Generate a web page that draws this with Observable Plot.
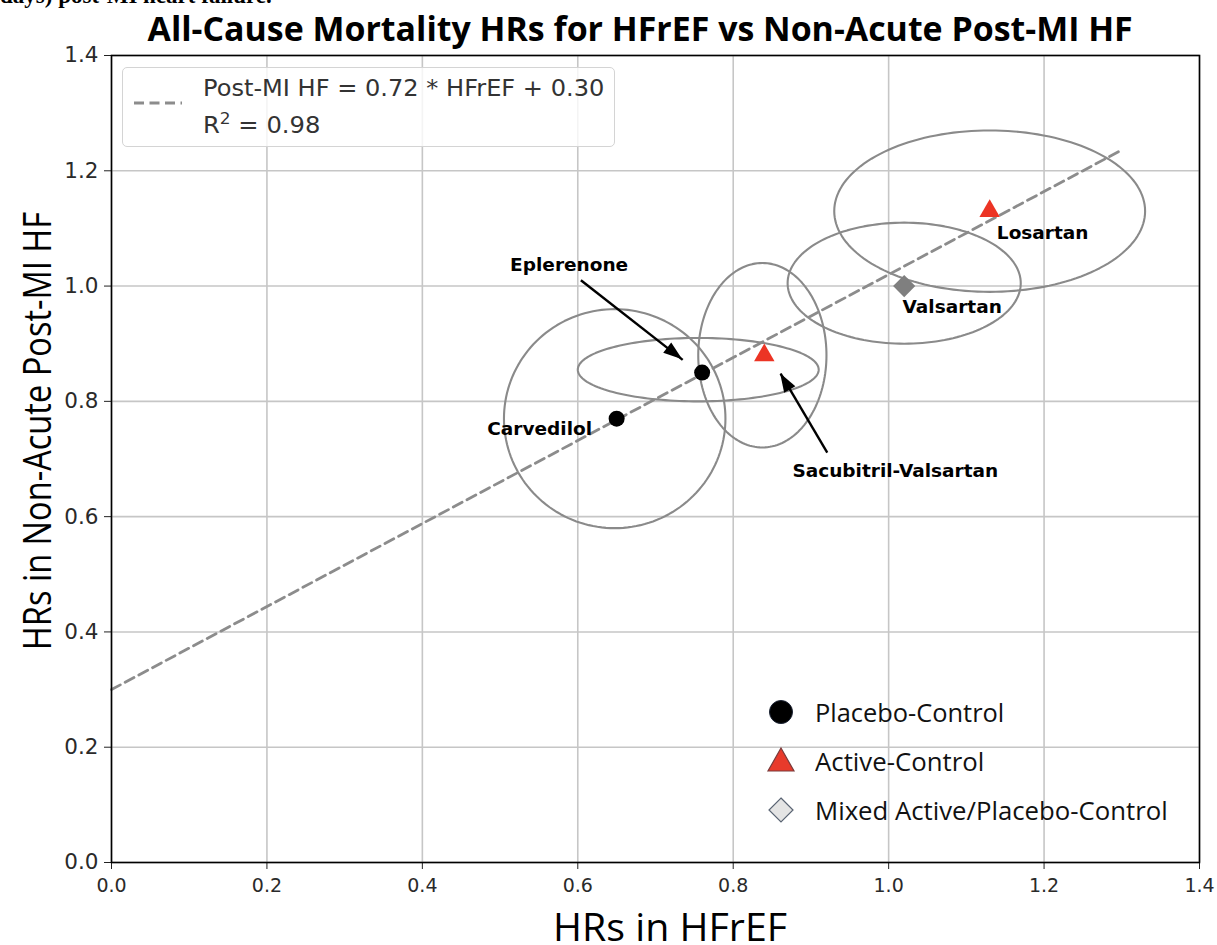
<!DOCTYPE html>
<html><head><meta charset="utf-8">
<script src="https://cdn.jsdelivr.net/npm/d3@7"></script>
<script src="https://cdn.jsdelivr.net/npm/@observablehq/plot@0.6"></script>
<style>
html,body{margin:0;padding:0;background:#fff;}
#wrap{position:relative;width:1217px;height:945px;overflow:hidden;background:#fff;}
.t{position:absolute;white-space:nowrap;line-height:1;}
</style></head><body><div id="wrap"></div>
<script>
// ---- data ----
const drugs = ["Carvedilol", "Eplerenone", "Sacubitril-Valsartan", "Valsartan", "Losartan"];
const controlType = ["Placebo-Control", "Placebo-Control", "Active-Control", "Mixed Active/Placebo-Control", "Active-Control"];
const hrHFrEF   = [0.65, 0.76, 0.84, 1.02, 1.13];
const hrHFrEFLo = [0.505, 0.60, 0.755, 0.87, 0.93];
const hrHFrEFHi = [0.79, 0.91, 0.92, 1.17, 1.33];
const hrPostMI   = [0.77, 0.85, 0.88, 1.00, 1.13];
const hrPostMILo = [0.58, 0.80, 0.72, 0.90, 0.99];
const hrPostMIHi = [0.96, 0.91, 1.04, 1.11, 1.27];
const categories = ["Placebo-Control", "Active-Control", "Mixed Active/Placebo-Control"];
const fitSlope = 0.72, fitIntercept = 0.30, fitRange = [0, 1.3];
const fitText = "Post-MI HF = 0.72 * HFrEF + 0.30";
const r2Text = "0.98";
const ticks = [0, 0.2, 0.4, 0.6, 0.8, 1.0, 1.2, 1.4];
const arrowDrugs = ["Eplerenone", "Sacubitril-Valsartan"];
const arrowTailX = [0.604, 0.921], arrowTailY = [1.010, 0.711];
const arrowTipX = [0.735, 0.861], arrowTipY = [0.872, 0.848];
const titleText = "All-Cause Mortality HRs for HFrEF vs Non-Acute Post-MI HF";
const xLabel = "HRs in HFrEF";
const yLabel = "HRs in Non-Acute Post-MI HF";

// ---- styling (not data) ----
const labelOffset = {"Carvedilol": [-77, 10], "Eplerenone": [-133, -107], "Sacubitril-Valsartan": [131, 116], "Valsartan": [48, 21], "Losartan": [53, 22]};
const catStyle = {
  "Placebo-Control": {symbol: "circle", r: 8, fill: "#000", stroke: "none"},
  "Active-Control": {symbol: "triangle", r: 7.6, fill: "#ec3424", stroke: "none"},
  "Mixed Active/Placebo-Control": {symbol: "diamond2", r: 10, fill: "#7f7f7f", stroke: "none"}
};

const points = drugs.map((d, i) => ({drug: d, type: controlType[i], x: hrHFrEF[i], y: hrPostMI[i],
  xlo: hrHFrEFLo[i], xhi: hrHFrEFHi[i], ylo: hrPostMILo[i], yhi: hrPostMIHi[i]}));

const ellipsePts = [];
for (const p of points) {
  const cx = (p.xlo + p.xhi) / 2, cy = (p.ylo + p.yhi) / 2, rx = (p.xhi - p.xlo) / 2, ry = (p.yhi - p.ylo) / 2;
  for (let k = 0; k <= 160; k++) {
    const a = 2 * Math.PI * k / 160;
    ellipsePts.push({drug: p.drug, x: cx + rx * Math.cos(a), y: cy + ry * Math.sin(a)});
  }
}
const fitPts = fitRange.map(x => ({x, y: fitSlope * x + fitIntercept}));
const arrows = arrowDrugs.map((d, i) => ({drug: d, x1: arrowTailX[i], y1: arrowTailY[i], x2: arrowTipX[i], y2: arrowTipY[i]}));

function arrowHeads(index, scales) {
  const g = d3.create("svg:g");
  for (const a of arrows) {
    const x1 = scales.x(a.x1), y1 = scales.y(a.y1), x2 = scales.x(a.x2), y2 = scales.y(a.y2);
    const L = Math.hypot(x2 - x1, y2 - y1), ux = (x2 - x1) / L, uy = (y2 - y1) / L;
    const len = 19, hw = 6.5;
    const bx = x2 - ux * len, by = y2 - uy * len;
    g.append("path").attr("d", `M${x2},${y2}L${bx - uy * hw},${by + ux * hw}L${bx + uy * hw},${by - ux * hw}Z`).attr("fill", "#000");
  }
  return g.node();
}

const marks = [
  Plot.gridX({ticks, stroke: "#c6c6c6", strokeOpacity: 1, strokeWidth: 1.6}),
  Plot.gridY({ticks, stroke: "#c6c6c6", strokeOpacity: 1, strokeWidth: 1.6}),
  Plot.line(ellipsePts, {x: "x", y: "y", z: "drug", stroke: "#8a8a8a", strokeWidth: 2.1}),
  Plot.line(fitPts, {x: "x", y: "y", stroke: "#8c8c8c", strokeWidth: 2.8, strokeDasharray: "10,5.5"})
];
for (const c of categories) {
  const s = catStyle[c];
  marks.push(Plot.dot(points, {filter: d => d.type === c, x: "x", y: "y", symbol: s.symbol, r: s.r, fill: s.fill, stroke: s.stroke}));
}
marks.push(Plot.link(arrows, {x1: "x1", y1: "y1", x2: "x2", y2: "y2", stroke: "#000", strokeWidth: 2.4}));
marks.push(arrowHeads);
for (const p of points) {
  const [dx, dy] = labelOffset[p.drug];
  marks.push(Plot.text([p], {x: "x", y: "y", text: "drug", dx, dy, fontWeight: "bold", fontSize: 18.5, fill: "#000", fontFamily: "DejaVu Sans"}));
}
marks.push(Plot.axisX({ticks, tickFormat: d3.format(".1f"), tickSize: 7, tickPadding: 9, label: null, fontSize: 19, fill: "#2a2a2a"}));
marks.push(Plot.axisY({ticks, tickFormat: d3.format(".1f"), tickSize: 7, tickPadding: 6, label: null, fontSize: 21.5, fill: "#2a2a2a"}));
marks.push(Plot.frame({stroke: "#000", strokeWidth: 1.6}));

const chart = Plot.plot({
  width: 1217, height: 945,
  marginLeft: 111, marginRight: 18, marginTop: 55, marginBottom: 83,
  style: {fontFamily: "DejaVu Sans", fontSize: "20px", color: "#222", background: "transparent"},
  x: {domain: [0, 1.4], label: null},
  y: {domain: [0, 1.4], label: null},
  marks
});
const wrap = document.getElementById("wrap");
wrap.appendChild(chart);

// ---- HTML text overlays ----
function addText(html, o) {
  const el = document.createElement("div");
  el.className = "t";
  el.innerHTML = html;
  Object.assign(el.style, {fontFamily: o.font, fontSize: o.size + "px", fontWeight: o.weight || "normal", color: o.color || "#000"});
  wrap.appendChild(el);
  const w = el.offsetWidth, h = el.offsetHeight;
  const k = o.w ? o.w / w : 1;
  if (o.rotate) {
    el.style.left = (o.cx - w / 2) + "px"; el.style.top = (o.cy - h / 2) + "px";
    el.style.transform = `rotate(-90deg) scaleX(${k})`;
  } else if (o.x != null) {
    el.style.left = o.x + "px"; el.style.top = (o.cy - h / 2) + "px";
    el.style.transformOrigin = "left center"; el.style.transform = `scaleX(${k})`;
  } else {
    el.style.left = (o.cx - w / 2) + "px"; el.style.top = (o.cy - h / 2) + "px";
    el.style.transform = `scaleX(${k})`;
  }
  return el;
}
// cut-off line of preceding text (only its lower part is visible at the page top)
const cutLine = document.createElement("div");
cutLine.className = "t";
Object.assign(cutLine.style, {left: "0px", top: "-17px", font: "bold 23px 'Liberation Serif'", color: "#000"});
cutLine.textContent = "days) post-MI heart failure.";
wrap.appendChild(cutLine);

addText(titleText, {cx: 640, cy: 28, w: 985, font: "Open Sans", size: 34, weight: "bold"});
addText(xLabel, {cx: 670, cy: 926, w: 234, font: "Open Sans", size: 38});
addText(yLabel, {cx: 35, cy: 431, w: 438, font: "Open Sans", size: 38, rotate: true});

// top-left fit legend
const box = document.createElement("div");
Object.assign(box.style, {position: "absolute", left: "122px", top: "67px", width: "493px", height: "80px",
  border: "1.3px solid #d4d4d4", borderRadius: "5px", background: "rgba(255,255,255,0.8)", boxSizing: "border-box"});
wrap.appendChild(box);
const ls = document.createElementNS("http://www.w3.org/2000/svg", "svg");
ls.setAttribute("width", "60"); ls.setAttribute("height", "10");
Object.assign(ls.style, {position: "absolute", left: "132px", top: "98px"});
ls.innerHTML = '<line x1="2" y1="5" x2="50" y2="5" stroke="#8c8c8c" stroke-width="2.8" stroke-dasharray="10,5.5"/>';
wrap.appendChild(ls);
addText(fitText, {x: 203, cy: 88, w: 401, font: "DejaVu Sans", size: 23, color: "#333"});
addText('R<sup style="font-size:0.7em;vertical-align:0.55em;line-height:0">2</sup> = ' + r2Text, {x: 203, cy: 125, w: 117, font: "DejaVu Sans", size: 23, color: "#333"});

// bottom-right category legend
const legY = [712, 761, 810], legW = [189, 169, 353];
const legSym = {
  "Placebo-Control": '<circle cx="15" cy="15" r="11.5" fill="#000" stroke="#1a2233" stroke-width="1"/>',
  "Active-Control": '<path d="M15,3 L28,26 L2,26 Z" fill="#e83a2b" stroke="#7a3a3a" stroke-width="1.2"/>',
  "Mixed Active/Placebo-Control": '<path d="M15,3 L27,15 L15,27 L3,15 Z" fill="#e4e4e4" stroke="#5a6473" stroke-width="1.2"/>'
};
categories.forEach((c, i) => {
  const s = document.createElementNS("http://www.w3.org/2000/svg", "svg");
  s.setAttribute("width", "30"); s.setAttribute("height", "30");
  Object.assign(s.style, {position: "absolute", left: (781 - 15) + "px", top: (legY[i] - 15 - (i === 1 ? 1 : 0)) + "px"});
  s.innerHTML = legSym[c];
  wrap.appendChild(s);
  addText(c, {x: 815, cy: legY[i], w: legW[i], font: "Open Sans", size: 25, color: "#111"});
});
</script>
</body></html>
